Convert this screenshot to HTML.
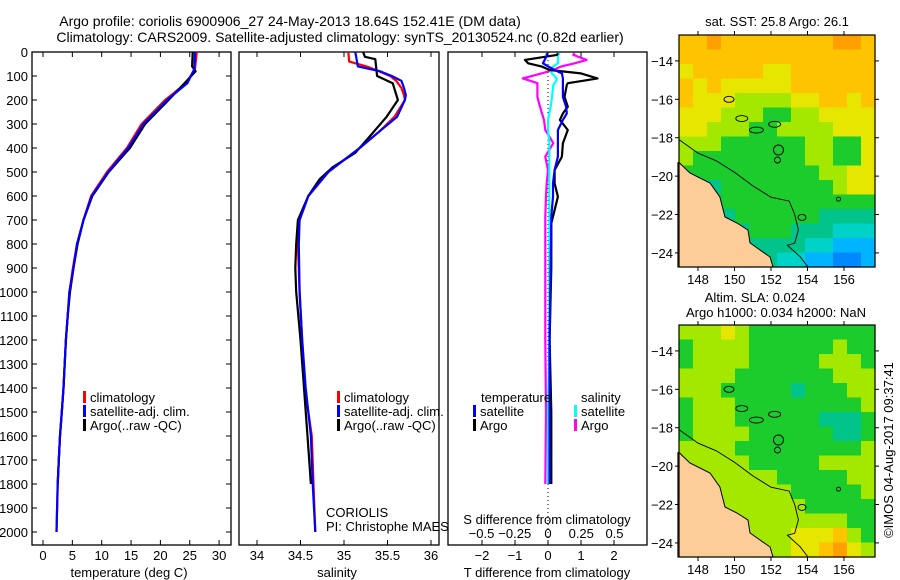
<!DOCTYPE html>
<html><head><meta charset="utf-8"><style>
html,body{margin:0;padding:0;background:#fff;}
svg{display:block;font-family:"Liberation Sans",Arial,sans-serif;}
text{fill:#000;}
</style></head><body>
<svg id="chart" width="900" height="580" viewBox="0 0 900 580" xmlns="http://www.w3.org/2000/svg">
<text x="290" y="26" font-size="14" text-anchor="middle">Argo profile: coriolis 6900906_27 24-May-2013 18.64S 152.41E (DM data)</text>
<text x="340" y="42" font-size="14" text-anchor="middle">Climatology: CARS2009. Satellite-adjusted climatology: synTS_20130524.nc (0.82d earlier)</text>
<g id="g"></g>
</svg>
<script>
// ---------- data ----------
const depthTicks=[0,100,200,300,400,500,600,700,800,900,1000,1100,1200,1300,1400,1500,1600,1700,1800,1900,2000];
const tempTicks=[0,5,10,15,20,25,30];
const salTicks=[34,34.5,35,35.5,36];
const salTickLabels=['34','34.5','35','35.5','36'];
const tdTicks=[-2,-1,0,1,2];
const sdTicks=[-0.5,-0.25,0,0.25,0.5];
const sdTickLabels=['\u22120.5','\u22120.25','0','0.25','0.5'];
const tdTickLabels=['\u22122','\u22121','0','1','2'];

const tClimDepth=[0,70,130,200,300,400,500,600,700,800,900,1000,1100,1200,1300,1400,1500,1600,1700,1800,1900,2000];
const tClim=[26.2,25.9,24.4,20.8,16.8,14.3,10.9,8.2,6.9,5.8,5.1,4.5,4.2,3.9,3.7,3.5,3.2,2.9,2.7,2.5,2.4,2.3];
const tSat=[25.9,25.8,24.6,21.1,17.1,14.5,11.1,8.3,6.9,5.8,5.2,4.5,4.2,3.9,3.7,3.5,3.2,2.9,2.7,2.5,2.4,2.3];
const tArgoDepth=[0,60,80,130,200,300,400,500,600,700,800,900,1000,1100,1200,1300,1400,1500,1600,1700,1800];
const tArgo=[25.5,25.4,26.0,24.1,21.4,17.4,14.8,11.2,8.4,6.9,5.9,5.2,4.6,4.2,3.9,3.7,3.5,3.2,2.9,2.7,2.5];

const sDepth=[0,40,60,80,100,120,150,180,200,270,330,400,500,600,700,800,1000,1200,1400,1600,1800,2000];
const sClim=[35.05,35.06,35.26,35.40,35.53,35.60,35.66,35.69,35.70,35.58,35.41,35.18,34.82,34.59,34.49,34.47,34.49,34.52,34.55,34.63,34.65,34.67];
const sSat=[35.13,35.15,35.16,35.41,35.55,35.66,35.69,35.71,35.70,35.61,35.41,35.18,34.82,34.59,34.49,34.48,34.49,34.52,34.56,34.62,34.64,34.67];
const sArgoDepth=[0,20,30,100,130,200,270,350,420,480,530,600,700,800,900,1000,1200,1400,1600,1800];
const sArgo=[35.22,35.24,35.36,35.38,35.56,35.62,35.49,35.30,35.13,34.87,34.72,34.59,34.47,34.45,34.44,34.45,34.50,34.54,34.58,34.62];

const dDepth=[5,12,33,47,60,75,89,110,117,130,137,187,228,256,283,325,380,436,492,547,603,686,714,900,1200,1500,1800];
const dTArgo=[0.3,0.27,-0.7,-0.6,-0.2,0.05,1.0,1.5,1.2,0.6,0.57,0.5,0.6,0.45,0.36,0.6,0.45,0.42,0.2,0.2,0.3,0.15,0.1,0.1,0.05,0.1,0.1];
const dTSat=[-0.05,-0.03,-0.1,-0.15,0.0,0.2,0.42,0.45,0.45,0.45,0.45,0.45,0.55,0.57,0.45,0.3,0.3,0.3,0.2,0.15,0.15,0.1,0.1,0.08,0.05,0.05,0.05];
const dSArgo=[0.2,0.19,0.29,0.2,0.1,0.04,-0.05,-0.19,-0.15,-0.08,-0.08,-0.08,-0.06,-0.045,-0.03,-0.02,0.04,-0.02,0.0,-0.01,-0.015,-0.02,-0.02,-0.02,-0.02,-0.015,-0.02];
const dSSat=[0.09,0.075,0.075,0.075,0.04,0.015,0.03,0.065,0.065,0.05,0.04,0.03,0.02,0.01,0.0,0.0,0.01,0.01,0.01,0.01,0.01,0.01,0.01,0.01,0.01,0.0,0.0];

const lonTicks=[148,150,152,154,156];
const latTicks=[-14,-16,-18,-20,-22,-24];
const sstLevels=[
[8,8,9,8,8,8,8,8,8,8,8,9,9,8],[8,8,8,8,8,8,8,8,8,8,8,8,8,8],[7,8,8,8,8,8,7,7,8,8,8,8,8,8],[8,7,8,7,7,7,7,7,8,8,8,8,8,8],
[8,7,7,7,6,6,6,6,7,7,8,8,7,8],[7,7,7,6,6,6,5,5,6,6,7,7,7,7],[7,7,6,6,6,5,5,6,6,6,6,7,7,7],[6,6,6,5,5,5,5,5,5,6,6,5,5,7],
[6,5,5,5,5,5,5,5,5,6,6,5,5,7],[5,5,5,5,5,5,5,5,5,5,6,6,7,7],[4,4,4,5,5,5,5,5,5,5,5,6,7,7],[3,4,4,5,5,5,5,5,5,5,5,5,5,5],
[3,3,4,4,5,5,5,5,5,5,4,4,4,4],[3,3,2,3,4,5,5,5,4,4,4,3,3,3],[3,3,2,2,3,4,4,4,4,3,3,2,2,2],[3,3,3,2,2,3,4,3,3,2,2,1,1,2]];
const slaLevels=[
[6,6,6,7,6,5,5,5,5,5,5,5,5,5],[5,6,6,6,6,5,5,5,5,5,5,6,5,5],[5,6,6,6,6,5,5,5,5,5,6,6,6,5],[6,6,6,6,5,5,5,5,5,5,5,6,6,6],
[6,6,6,5,5,5,5,5,4,5,5,5,6,6],[5,6,6,6,5,5,5,5,5,5,5,5,5,6],[5,6,6,6,5,5,5,5,5,5,4,4,4,5],[5,6,6,6,6,5,5,5,5,5,5,4,4,5],
[6,6,6,6,5,5,5,5,5,5,5,5,5,6],[6,6,6,6,6,5,5,5,5,5,6,6,6,6],[6,6,6,6,6,6,6,5,5,5,5,5,6,6],[6,6,6,6,6,6,6,6,5,5,5,5,5,6],
[6,6,6,6,6,6,6,6,6,5,5,5,5,5],[6,6,6,6,6,6,6,6,6,6,6,6,5,5],[6,6,6,6,6,6,6,6,7,7,7,8,6,5],[6,6,6,6,6,6,6,6,7,7,8,9,7,6]];
const coastLon=[146.9,147.0,147.56,148.66,149.2,149.48,150.14,150.74,150.85,151.4,151.95,152.11,146.9];
const coastLat=[-19.3,-19.32,-19.84,-20.36,-21.09,-22.13,-22.44,-22.81,-23.48,-23.85,-24.21,-24.75,-24.75];
const reefLon=[146.96,148.0,149.0,150.0,151.0,152.0,153.0,153.3,153.5,153.3,152.9,153.6,154.0];
const reefLat=[-18.1,-18.8,-19.2,-19.8,-20.5,-21.1,-21.3,-22.0,-22.8,-23.5,-23.6,-24.2,-24.7];
const argoLon=[152.41];
const argoLat=[-18.64];

// ---------- helpers ----------
const NS='http://www.w3.org/2000/svg';
const G=document.getElementById('g');
function mk(tag,attrs,parent){const e=document.createElementNS(NS,tag);for(const k in attrs)e.setAttribute(k,attrs[k]);(parent||G).appendChild(e);return e;}
function txt(x,y,s,size,anchor,parent){const e=mk('text',{x:x,y:y,'font-size':size,'text-anchor':anchor||'middle'},parent);e.textContent=s;return e;}
const yD=d=>52+d*0.24;
const xT=t=>43+t*5.87;
const xS=s=>257+(s-34)*87;
const xDT=v=>548+v*33;
const xDS=v=>548+v*133;
const palette=['#0048ff','#0088ff','#00b4ff','#00d2c8','#00c48a','#1ccc2c','#a4e800','#e6e600','#ffc400','#ffa000'];

function line(xs,ys,color,name,w){
  const pts=xs.map((x,i)=>x.toFixed(1)+','+ys[i].toFixed(1)).join(' ');
  const p=mk('polyline',{points:pts,fill:'none',stroke:color,'stroke-width':w||2.2,'stroke-linejoin':'round'});
  
  
  return p;
}
function frame(x0,x1,y0,y1,name){
  const r=mk('rect',{x:x0,y:y0,width:x1-x0,height:y1-y0,fill:'none',stroke:'#000','stroke-width':1.3});
  
  
}
function legend(x,y,items,parent){
  items.forEach((it,i)=>{
    mk('rect',{x:x,y:y+i*14-11,width:3,height:12,fill:it[1]});
    const t=txt(x+7,y+i*14,it[0],13,'start');
    
    
  });
}

// ---------- panel 1: temperature ----------
frame(32,231,52,545,'temperature-panel-frame');
depthTicks.forEach(d=>{
  const t=txt(28,yD(d)+5,String(d),13,'end');
  
  
  mk('line',{x1:32,x2:37,y1:yD(d),y2:yD(d),stroke:'#000'});
  mk('line',{x1:226,x2:231,y1:yD(d),y2:yD(d),stroke:'#000'});
});
tempTicks.forEach(v=>{
  const t=txt(xT(v),560,String(v),13);
  
  
  mk('line',{x1:xT(v),x2:xT(v),y1:52,y2:57,stroke:'#000'});
  mk('line',{x1:xT(v),x2:xT(v),y1:540,y2:545,stroke:'#000'});
});
const xl1=txt(129,577,'temperature (deg C)',13);


line(tClimDepth.map((d,i)=>xT(tClim[i])),tClimDepth.map(yD),'#f00','temperature-climatology-line');
line(tArgoDepth.map((d,i)=>xT(tArgo[i])),tArgoDepth.map(yD),'#000','temperature-argo-line');
line(tClimDepth.map((d,i)=>xT(tSat[i])),tClimDepth.map(yD),'#0000ff','temperature-satellite-line');
legend(83,402,[['climatology','#f00'],['satellite-adj. clim.','#00f'],['Argo(..raw -QC)','#000']]);

// ---------- panel 2: salinity ----------
frame(239,439,52,545,'salinity-panel-frame');
salTicks.forEach((v,i)=>{
  const t=txt(xS(v),560,salTickLabels[i],13);
  
  
  mk('line',{x1:xS(v),x2:xS(v),y1:52,y2:57,stroke:'#000'});
  mk('line',{x1:xS(v),x2:xS(v),y1:540,y2:545,stroke:'#000'});
});
const xl2=txt(337,577,'salinity',13);


line(sDepth.map((d,i)=>xS(sClim[i])),sDepth.map(yD),'#f00','salinity-climatology-line');
line(sArgoDepth.map((d,i)=>xS(sArgo[i])),sArgoDepth.map(yD),'#000','salinity-argo-line');
line(sDepth.map((d,i)=>xS(sSat[i])),sDepth.map(yD),'#0000ff','salinity-satellite-line');
legend(337,402,[['climatology','#f00'],['satellite-adj. clim.','#00f'],['Argo(..raw -QC)','#000']]);
const c1=txt(326,517,'CORIOLIS',13,'start');


const c2=txt(326,531,'PI: Christophe MAES',13,'start');



// ---------- panel 3: differences ----------
frame(448,647,52,545,'difference-panel-frame');
mk('line',{x1:548,x2:548,y1:52,y2:545,stroke:'#000','stroke-dasharray':'1,3'});
tdTicks.forEach((v,i)=>{
  const t=txt(xDT(v),560,tdTickLabels[i],13);
  
  
  mk('line',{x1:xDT(v),x2:xDT(v),y1:52,y2:57,stroke:'#000'});
  mk('line',{x1:xDT(v),x2:xDT(v),y1:540,y2:545,stroke:'#000'});
});
sdTicks.forEach((v,i)=>{
  const t=txt(xDS(v),538,sdTickLabels[i],13);
  
  
});
const sdt=txt(547,524,'S difference from climatology',13);


const tdt=txt(547,577,'T difference from climatology',13);


line(dDepth.map((d,i)=>xDS(dSArgo[i])),dDepth.map(yD),'#ff00ff','salinity-argo-difference-line');
line(dDepth.map((d,i)=>xDS(dSSat[i])),dDepth.map(yD),'#00ffff','salinity-satellite-difference-line');
line(dDepth.map((d,i)=>xDT(dTArgo[i])),dDepth.map(yD),'#000','temperature-argo-difference-line');
line(dDepth.map((d,i)=>xDT(dTSat[i])),dDepth.map(yD),'#0000ff','temperature-satellite-difference-line');
const lt=txt(481,402,'temperature',13,'start');


const ls=txt(581,402,'salinity',13,'start');


legend(473,416,[['satellite','#00f'],['Argo','#000']]);
legend(574,416,[['satellite','#00ffff'],['Argo','#ff00ff']]);

// ---------- maps ----------
function drawMap(top,levels,name,labelY){
  const L=679,R=875,B=top+232;
  const mx=lon=>L+(lon-146.96)*18.25;
  const my=lat=>top+(-12.65-lat)*19.2;
  const gm=mk('g',{});
  
  
  const rows=levels.length, cols=levels[0].length;
  const cw=(R-L)/cols, ch=(B-top)/rows;
  levels.forEach((row,r)=>row.forEach((v,c)=>{
    const cell=mk('rect',{x:(L+c*cw).toFixed(2),y:(top+r*ch).toFixed(2),width:(cw+0.6).toFixed(2),height:(ch+0.6).toFixed(2),fill:palette[v]},gm);
    
    
  }));
  const land=mk('polygon',{points:coastLon.map((lo,i)=>mx(lo).toFixed(1)+','+Math.min(B,my(coastLat[i])).toFixed(1)).join(' '),fill:'#fccc99',stroke:'#000','stroke-width':1},gm);
  
  
  const reef=mk('polyline',{points:reefLon.map((lo,i)=>mx(lo).toFixed(1)+','+Math.min(B,my(reefLat[i])).toFixed(1)).join(' '),fill:'none',stroke:'#000','stroke-width':0.9},gm);
  
  
  [[149.7,-16.0,5],[150.4,-17.0,6],[151.2,-17.6,7],[152.2,-17.3,6],[153.7,-22.15,4]].forEach(p=>{
    const e=mk('ellipse',{cx:mx(p[0]),cy:my(p[1]),rx:p[2],ry:3,fill:'none',stroke:'#000','stroke-width':0.9},gm);
    
    
  });
  argoLon.forEach((lo,i)=>{
    const c=mk('circle',{cx:mx(lo),cy:my(argoLat[i]),r:5,fill:'none',stroke:'#000','stroke-width':1},gm);
    
    
    mk('circle',{cx:mx(lo)-1,cy:my(argoLat[i])+10,r:3,fill:'none',stroke:'#000','stroke-width':0.9},gm);
  });
  mk('circle',{cx:mx(155.7),cy:my(-21.2),r:2,fill:'none',stroke:'#000','stroke-width':0.9},gm);
  mk('rect',{x:L,y:top,width:R-L,height:B-top,fill:'none',stroke:'#000','stroke-width':1.2},gm);
  lonTicks.forEach(lo=>{
    mk('line',{x1:mx(lo),x2:mx(lo),y1:top-4,y2:top,stroke:'#000'},gm);
    mk('line',{x1:mx(lo),x2:mx(lo),y1:B,y2:B+4,stroke:'#000'},gm);
    const t=txt(mx(lo),labelY,String(lo),13,'middle',gm);
    
    
  });
  latTicks.forEach(la=>{
    mk('line',{x1:L-4,x2:L,y1:my(la),y2:my(la),stroke:'#000'},gm);
    mk('line',{x1:R,x2:R+4,y1:my(la),y2:my(la),stroke:'#000'},gm);
    const t=txt(L-6,my(la)+5,'\u2212'+String(-la),13,'end',gm);
    
    
  });
}
drawMap(35,sstLevels,'sst-map',284);
drawMap(325,slaLevels,'sla-map',574);
const m1=txt(777,26,'sat. SST: 25.8 Argo: 26.1',13);


const m2=txt(755,302,'Altim. SLA: 0.024',13);


const m3=txt(776,317,'Argo h1000: 0.034 h2000: NaN',13);


const ts=txt(0,0,'\u00A9IMOS 04-Aug-2017 09:37:41',13);
ts.setAttribute('transform','translate(893,450) rotate(-90)');


</script>
</body></html>
